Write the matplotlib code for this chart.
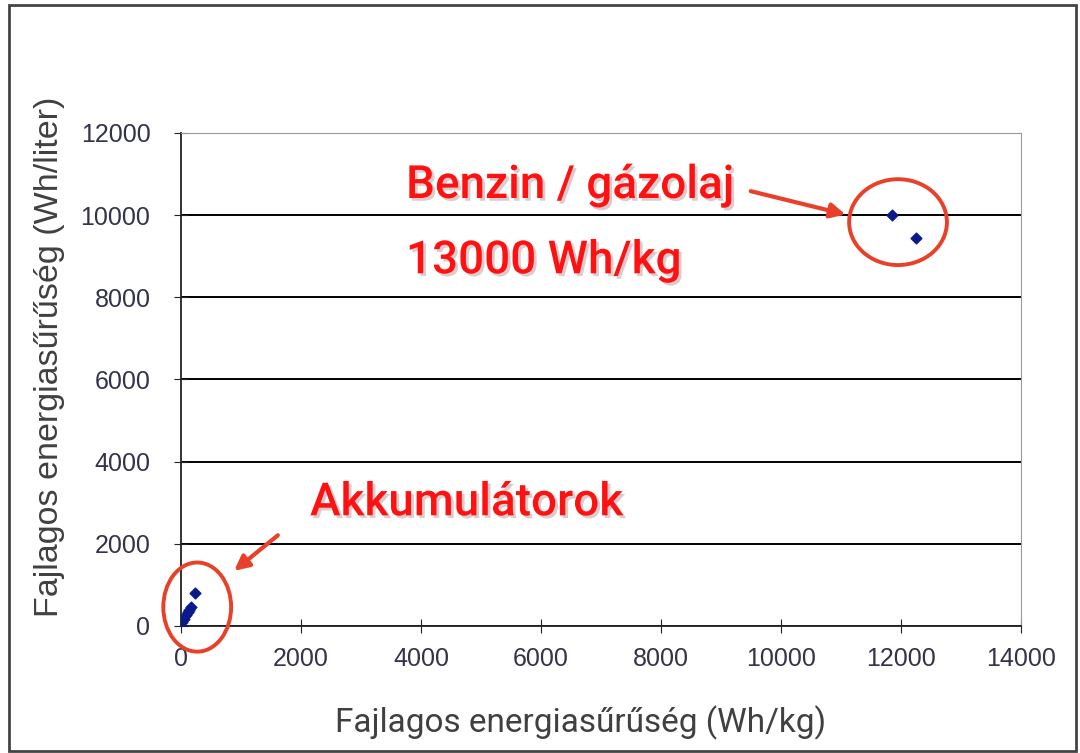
import matplotlib
matplotlib.use("Agg")
import matplotlib.pyplot as plt
from matplotlib.patches import Ellipse, Rectangle
import matplotlib.patheffects as pe

# energy density data
fuel_wh_kg = [11850, 12250]
fuel_wh_l = [10000, 9450]
batt_wh_kg = [20, 50, 80, 110, 140, 160, 230]
batt_wh_l = [90, 180, 260, 330, 400, 450, 800]

xticks = [0, 2000, 4000, 6000, 8000, 10000, 12000, 14000]
yticks = [0, 2000, 4000, 6000, 8000, 10000, 12000]

red_line = "#e9402a"
red_text = "#ff1111"

fig = plt.figure(figsize=(10.8, 7.53), dpi=100)
ax = fig.add_axes([0.1676, 0.1687, 0.9454 - 0.1676, 0.8234 - 0.1687])

ax.scatter(fuel_wh_kg, fuel_wh_l, marker="D", s=30, color="#0a1a8c", zorder=3)
ax.scatter(batt_wh_kg, batt_wh_l, marker="D", s=30, color="#0a1a8c", zorder=3)

ax.set_xlim(0, 14000)
ax.set_ylim(0, 12000)
ax.set_xticks(xticks)
ax.set_yticks(yticks)
ax.tick_params(axis="both", labelsize=18, labelcolor="#33334a", color="#222222",
               length=10, direction="inout")
ax.tick_params(axis="y", pad=17)
ax.tick_params(axis="x", pad=10)
for lab in ax.get_xticklabels() + ax.get_yticklabels():
    lab.set_family("Liberation Sans")
ax.yaxis.grid(True, color="black", lw=1.4)
ax.set_axisbelow(True)
for side in ["top", "right"]:
    ax.spines[side].set_color("#999999")
for side in ["left", "bottom"]:
    ax.spines[side].set_color("#222222")
    ax.spines[side].set_linewidth(1.3)

ax.set_xlabel("Fajlagos energiasűrűség (Wh/kg)", family="Roboto", fontsize=24,
              color="#404040")
ax.xaxis.set_label_coords(0.476, -0.162)
ax.set_ylabel("Fajlagos energiasűrűség (Wh/liter)", family="Liberation Sans",
              fontsize=24.5, color="#404040")
ax.yaxis.set_label_coords(-0.138, 0.546)

# red callouts
ax.add_patch(Ellipse((11950, 9830), 1630, 2090, fill=False, ec=red_line, lw=2.8,
                     clip_on=False, zorder=4))
ax.add_patch(Ellipse((270, 460), 1130, 2170, fill=False, ec=red_line, lw=2.8,
                     clip_on=False, zorder=4))

ax.annotate("", xy=(11120, 10000), xytext=(9450, 10600),
            arrowprops=dict(arrowstyle="-|>", color=red_line, lw=3, mutation_scale=22))
ax.annotate("", xy=(850, 1300), xytext=(1650, 2250),
            arrowprops=dict(arrowstyle="-|>", color=red_line, lw=3, mutation_scale=22))

shadow = [pe.SimplePatchShadow(offset=(2, -2), alpha=0.2), pe.Normal()]
callout = dict(family="Roboto", weight="medium", fontsize=33, color=red_text,
               ha="left", va="center", path_effects=shadow, zorder=5)
ax.text(3750, 10740, "Benzin / gázolaj", **callout)
ax.text(3750, 8900, "13000 Wh/kg", **callout)
ax.text(2150, 3010, "Akkumulátorok", **callout)

# outer frame
fig.patches.append(Rectangle((0.008, 0.003), 0.988, 0.99, transform=fig.transFigure,
                             fill=False, ec="#444444", lw=2))

fig.savefig("out.png", dpi=100)
